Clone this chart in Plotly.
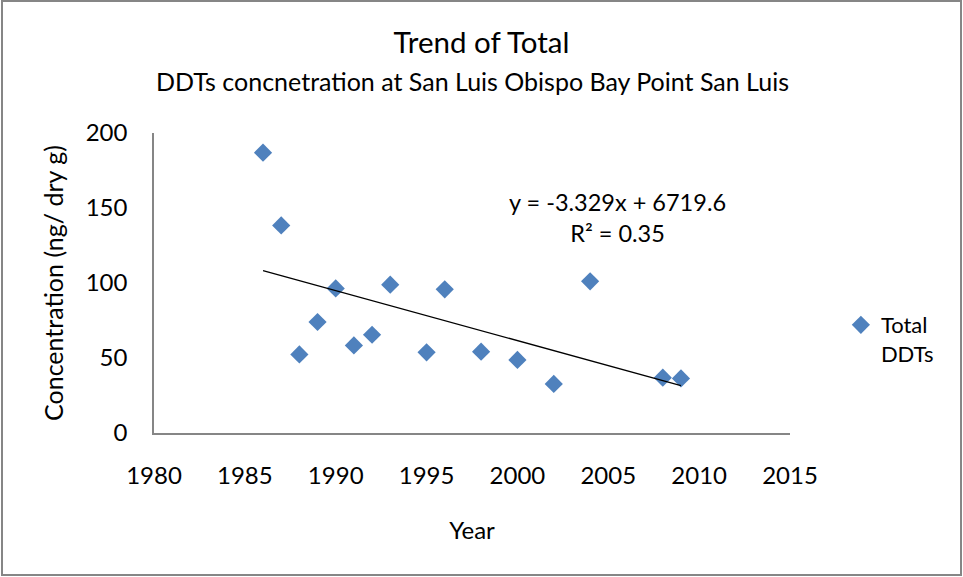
import plotly.graph_objects as go

# ---- data ----
years = [1986, 1987, 1988, 1989, 1990, 1991, 1992, 1993, 1995, 1996, 1998, 2000, 2002, 2004, 2008, 2009]
total_ddts = [186.9, 138.4, 52.4, 74.0, 96.4, 58.4, 65.5, 98.9, 53.8, 95.8, 54.2, 48.7, 32.7, 101.1, 36.9, 36.4]
series_name = "Total<br>DDTs"
trend_slope = -3.329
trend_intercept = 6719.6
r_squared = 0.35
x_ticks = [1980, 1985, 1990, 1995, 2000, 2005, 2010, 2015]
y_ticks = [0, 50, 100, 150, 200]

title_line1 = "Trend of Total"
title_line2 = "DDTs concnetration at San Luis Obispo Bay Point San Luis"
x_title = "Year"
y_title = "Concentration (ng/ dry g)"

FONT = "Lato, Liberation Sans, sans-serif"
AXIS_GRAY = "#868686"

trend_x = [min(years), max(years)]
trend_y = [trend_slope * x + trend_intercept for x in trend_x]

fig = go.Figure()
fig.add_trace(go.Scatter(
    x=years, y=total_ddts, mode="markers", name=series_name,
    marker=dict(symbol="diamond", size=14, color="#4F81BD"),
))
fig.add_trace(go.Scatter(
    x=trend_x, y=trend_y, mode="lines", showlegend=False,
    line=dict(color="black", width=1.3),
))

fig.add_annotation(
    x=2005.5, y=143.5, xref="x", yref="y", xanchor="center", yanchor="middle",
    text=f"y = {trend_slope}x + {trend_intercept}<br>R² = {r_squared}",
    showarrow=False, font=dict(family=FONT, size=23.5, color="black"),
    align="center",
)
fig.add_annotation(
    x=0.5, y=1.1717, xref="paper", yref="paper", xanchor="center", yanchor="middle",
    text=title_line2, showarrow=False,
    font=dict(family=FONT, size=25, color="black"),
)

fig.update_layout(
    width=963, height=577,
    margin=dict(l=154, r=173, t=133, b=144),
    paper_bgcolor="white", plot_bgcolor="white",
    font=dict(family=FONT, size=24, color="black"),
    title=dict(text=title_line1, x=0.5, xref="container", xanchor="center",
               y=1 - 43 / 577, yref="container", yanchor="middle",
               font=dict(family=FONT, size=29.5, color="black")),
    showlegend=True,
    legend=dict(x=1.08, xanchor="left", y=0.43, yanchor="top",
                valign="top", font=dict(family=FONT, size=22, color="black"),
                bgcolor="rgba(0,0,0,0)", itemwidth=30),
    shapes=[dict(type="rect", xref="paper", yref="paper",
                 x0=-152 / 636, x1=807 / 636, y0=-142 / 300, y1=432 / 300,
                 line=dict(color=AXIS_GRAY, width=2), fillcolor="rgba(0,0,0,0)",
                 layer="below")],
)
fig.update_xaxes(
    range=[1980, 2015], tickvals=x_ticks, showgrid=False, zeroline=False,
    showline=True, linecolor=AXIS_GRAY, linewidth=1.5,
    ticks="", ticklabelstandoff=20,
    title=dict(text=x_title, standoff=35, font=dict(family=FONT, size=24)),
    tickfont=dict(family=FONT, size=24),
)
fig.update_yaxes(
    range=[0, 200], tickvals=y_ticks, showgrid=False, zeroline=False,
    showline=True, linecolor=AXIS_GRAY, linewidth=1.5,
    ticks="", ticklabelstandoff=20,
    title=dict(text=y_title, standoff=15, font=dict(family=FONT, size=25)),
    tickfont=dict(family=FONT, size=24),
)

fig.write_html("out.html", config={"displayModeBar": False},
               post_script="document.body.style.margin='0';")
